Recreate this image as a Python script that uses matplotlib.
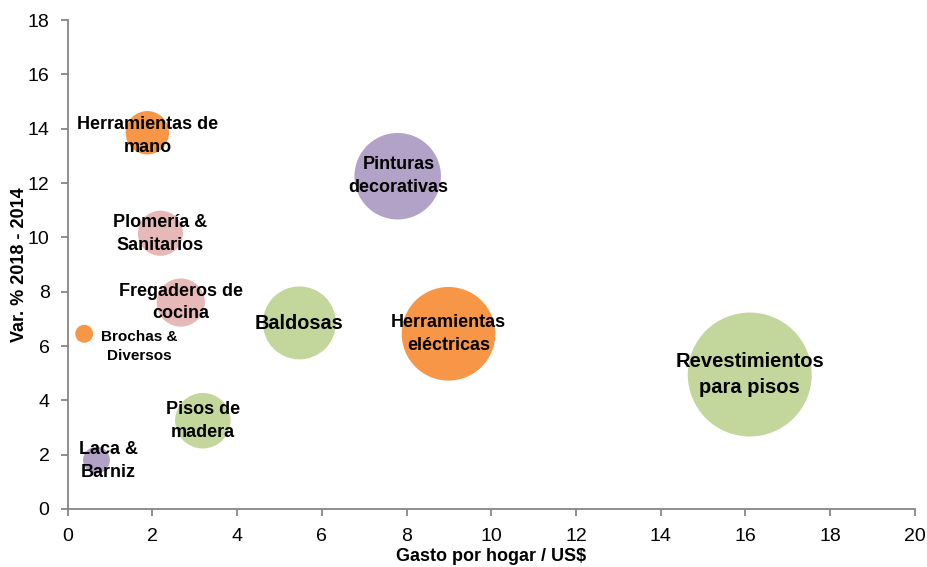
import matplotlib
matplotlib.use("Agg")
import matplotlib.pyplot as plt
import numpy as np

# Data
labels = ["Herramientas de\nmano", "Pinturas\ndecorativas", "Plomería &\nSanitarios",
          "Fregaderos de\ncocina", "Brochas &\nDiversos", "Baldosas",
          "Herramientas\neléctricas", "Revestimientos\npara pisos",
          "Pisos de\nmadera", "Laca &\nBarniz"]
gasto = [1.88, 7.79, 2.19, 2.67, 0.39, 5.47, 8.99, 16.1, 3.19, 0.68]
variacion = [13.85, 12.25, 10.15, 7.6, 6.45, 6.85, 6.45, 4.95, 3.25, 1.8]
tamano = [4.7, 18.7, 5.1, 5.8, 0.8, 13.3, 21.9, 38.4, 7.7, 1.8]
colores = ["#F79646", "#B3A2C7", "#E6B9B8", "#E6B9B8", "#F79646", "#C3D69B",
           "#F79646", "#C3D69B", "#C3D69B", "#B3A2C7"]

# Label style (offsets in pixels, font size in pt)
lab_dx = [0, 1, 0, 0, 55, 0, 0, 0, 0, 12]
lab_dy = [-3, 0, -1, 0, -13, -1, 0, 0, 0, -1]
lab_fs = [13, 13, 13, 13, 11, 14.3, 13, 14.5, 13, 13]

FONT = ["Liberation Sans", "DejaVu Sans"]
plt.rcParams["font.family"] = FONT

fig = plt.figure(figsize=(9.27, 5.67), dpi=100)
ax = fig.add_axes([0.073, 0.1023, 0.914, 0.8624])

# radius in px = 10*sqrt(size); s is (diameter in points)^2
r_px = 10 * np.sqrt(np.array(tamano))
s = (2 * r_px * 0.72) ** 2
ax.scatter(gasto, variacion, s=s, c=colores, edgecolors="none", zorder=2)

for i, lab in enumerate(labels):
    ax.annotate(lab, (gasto[i], variacion[i]),
                xytext=(lab_dx[i] * 0.72, lab_dy[i] * 0.72), textcoords="offset points",
                ha="center", va="center", fontsize=lab_fs[i], fontweight="bold",
                linespacing=1.45, color="black", zorder=3)

ax.set_xlim(0, 20)
ax.set_ylim(0, 18)
ax.set_xticks(np.arange(0, 21, 2))
ax.set_yticks(np.arange(0, 19, 2))
for sp in ["top", "right"]:
    ax.spines[sp].set_visible(False)
for sp in ["left", "bottom"]:
    ax.spines[sp].set_color("#868686")
    ax.spines[sp].set_linewidth(1.3)
ax.tick_params(axis="both", colors="#868686", labelcolor="black", labelsize=14,
               length=5, width=1.3, direction="out")
ax.tick_params(axis="x", pad=9)
ax.tick_params(axis="y", pad=8)

ax.set_xlabel("Gasto por hogar / US$", fontsize=13, fontweight="bold")
ax.set_ylabel("Var. % 2018 - 2014", fontsize=13, fontweight="bold")
ax.xaxis.set_label_coords(0.5, -0.079)
ax.yaxis.set_label_coords(-0.047, 0.5)

fig.savefig("out.png", dpi=100)
